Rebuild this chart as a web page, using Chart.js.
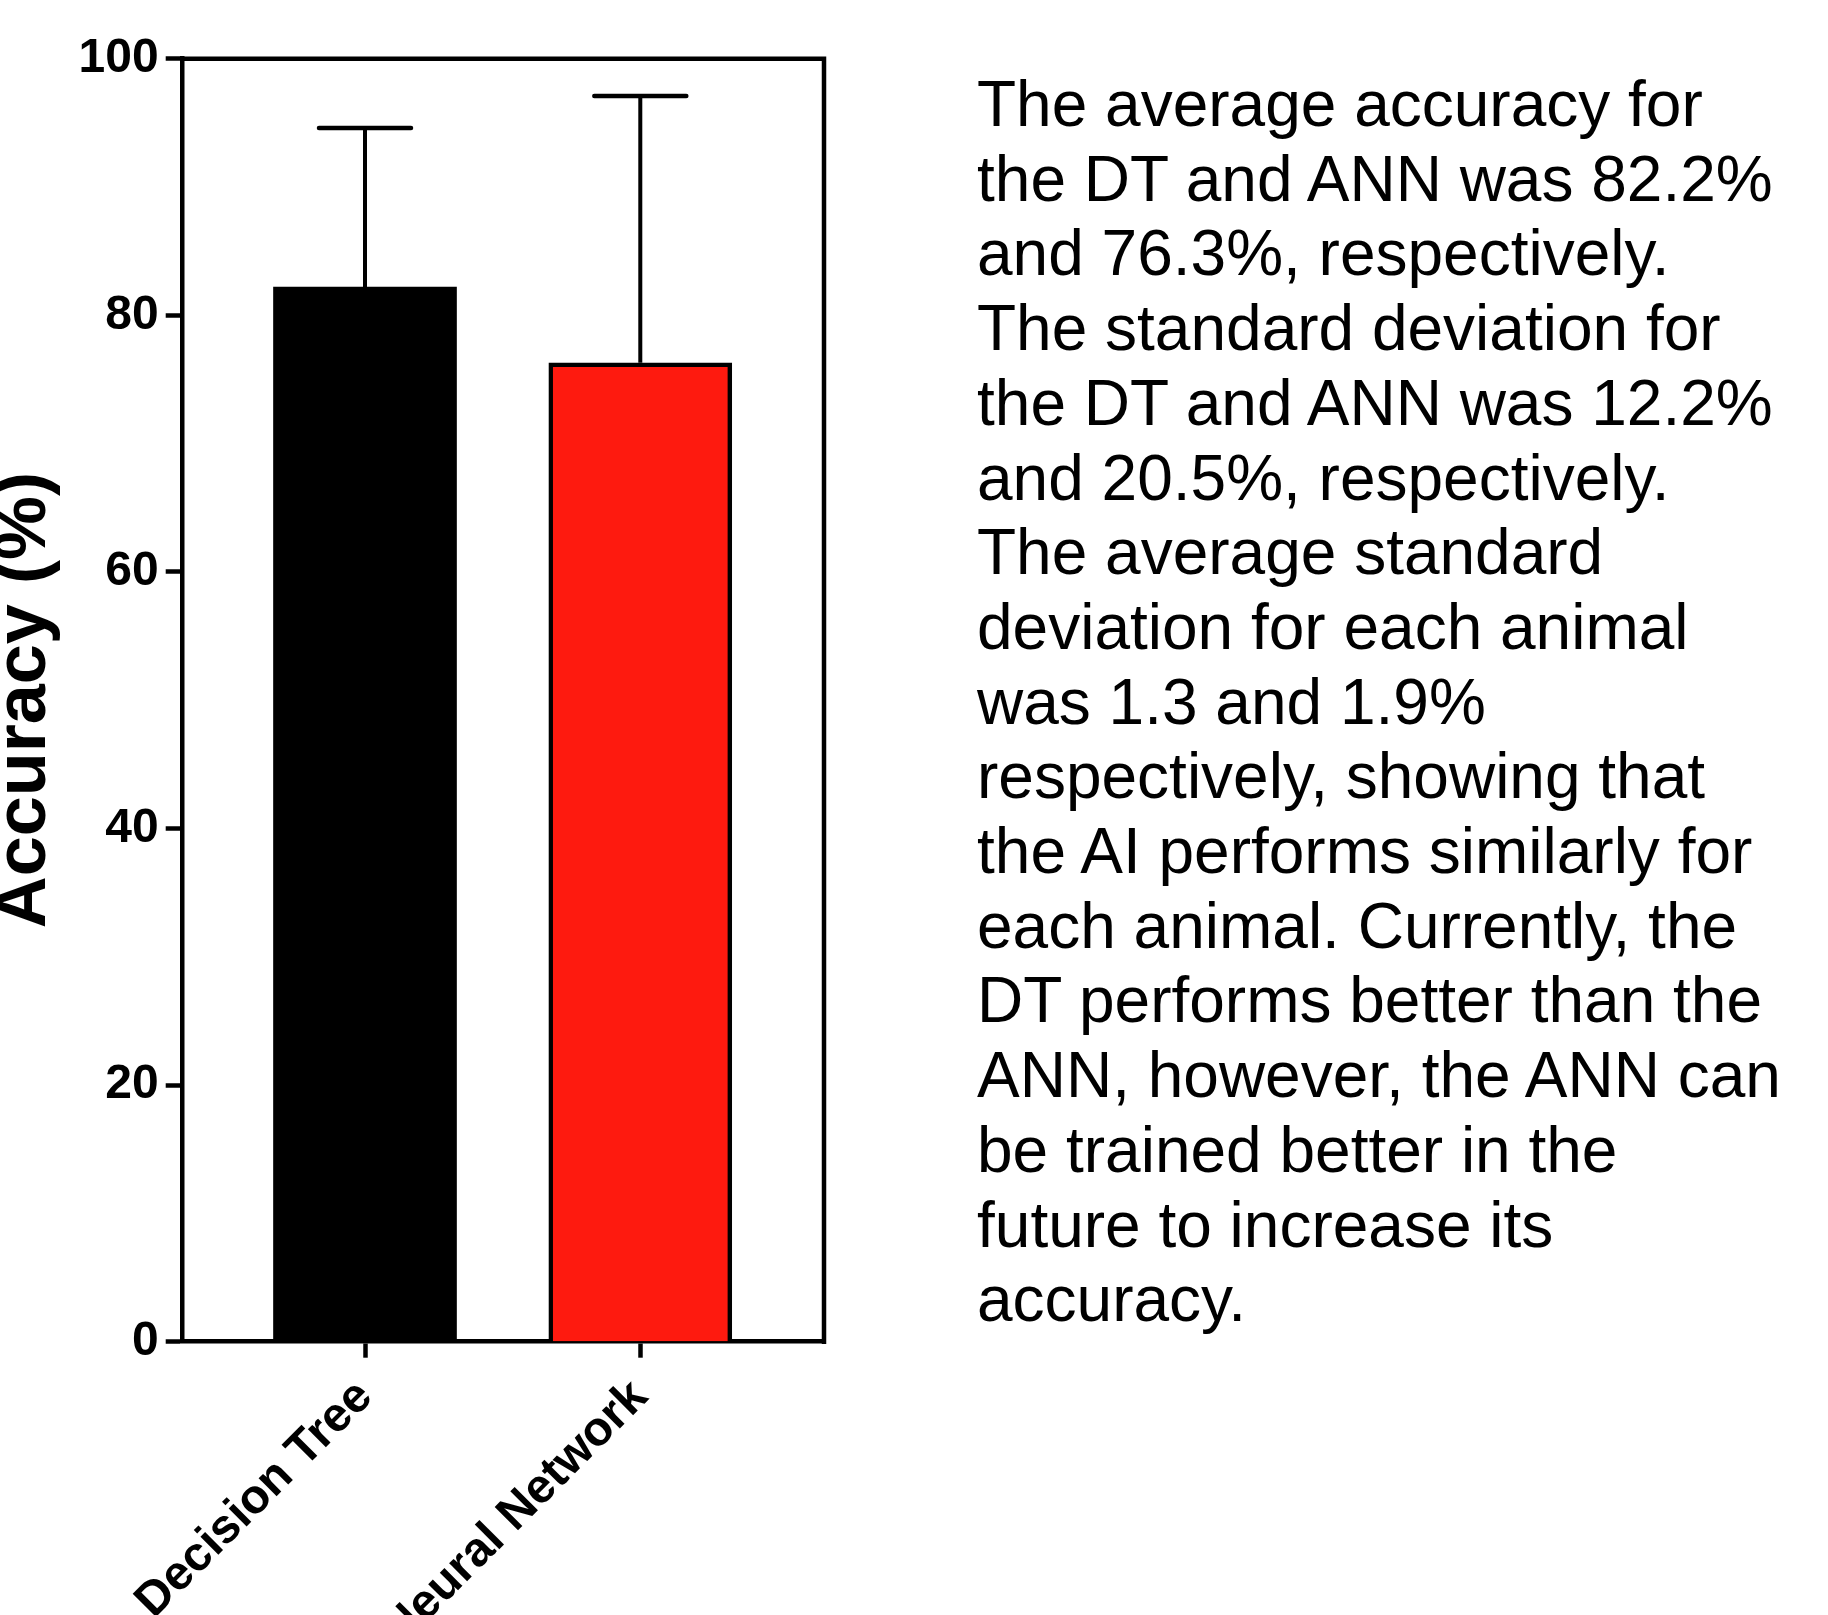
<!DOCTYPE html>
<html>
<head>
<meta charset="utf-8">
<script src="https://cdn.jsdelivr.net/npm/chart.js@4"></script>
<style>
  html, body { margin: 0; padding: 0; background: #fff; overflow: hidden; }
  body { width: 1828px; height: 1615px; position: relative; }
  #c { position: absolute; left: 0; top: 0; }
  #note {
    position: absolute; left: 977px; top: 67px;
    font-family: "Liberation Sans", Arial, sans-serif;
    font-size: 64px; line-height: 74.7px; color: #000; white-space: nowrap;
  }
</style>
</head>
<body>
<canvas id="c" width="900" height="1615"></canvas>
<div id="note">The average accuracy for<br>the DT and ANN was 82.2%<br>and 76.3%, respectively.<br>The standard deviation for<br>the DT and ANN was 12.2%<br>and 20.5%, respectively.<br>The average standard<br>deviation for each animal<br>was 1.3 and 1.9%<br>respectively, showing that<br>the AI performs similarly for<br>each animal. Currently, the<br>DT performs better than the<br>ANN, however, the ANN can<br>be trained better in the<br>future to increase its<br>accuracy.</div>
<script>
// ---- data ----
const categories = ['Decision Tree', 'Neural Network'];
const meanAccuracy = [82.2, 76.3];
const stdDev = [12.4, 20.8];
const yTickValues = [0, 20, 40, 60, 80, 100];
const yTitle = 'Accuracy (%)';

// ---- styles ----
const FONT = '"Liberation Sans", Arial, Helvetica, sans-serif';
const barFill = ['#000000', '#FE1A0F'];
const LW = 4.5;

Chart.defaults.font.family = FONT;
Chart.defaults.color = '#000';

const errorBars = {
  id: 'errorBars',
  afterDatasetsDraw(chart) {
    const ctx = chart.ctx;
    const meta = chart.getDatasetMeta(0);
    const ys = chart.scales.y;
    ctx.save();
    ctx.strokeStyle = '#000';
    meta.data.forEach((bar, i) => {
      const x = bar.x;
      const yb = ys.getPixelForValue(meanAccuracy[i]);
      const yt = ys.getPixelForValue(meanAccuracy[i] + stdDev[i]);
      ctx.lineCap = 'butt';
      ctx.lineWidth = 4;
      ctx.beginPath(); ctx.moveTo(x, yb); ctx.lineTo(x, yt); ctx.stroke();
      ctx.lineCap = 'round';
      ctx.lineWidth = LW;
      ctx.beginPath(); ctx.moveTo(x - 46, yt); ctx.lineTo(x + 46, yt); ctx.stroke();
    });
    ctx.restore();
  }
};

const frame = {
  id: 'frame',
  afterDraw(chart) {
    const a = chart.chartArea, ctx = chart.ctx;
    ctx.save();
    ctx.strokeStyle = '#000';
    ctx.lineWidth = LW;
    ctx.lineCap = 'square';
    ctx.beginPath();
    ctx.moveTo(a.left, a.top);
    ctx.lineTo(a.right, a.top);
    ctx.lineTo(a.right, a.bottom);
    ctx.stroke();
    ctx.restore();
  }
};

new Chart(document.getElementById('c'), {
  type: 'bar',
  data: {
    datasets: [{
      data: categories.map((c, i) => ({ x: i, y: meanAccuracy[i] })),
      backgroundColor: barFill,
      borderColor: '#000',
      borderWidth: [0, LW],
      barThickness: 183,
      borderSkipped: 'start'
    }]
  },
  options: {
    responsive: false,
    animation: false,
    devicePixelRatio: 1,
    layout: { padding: { left: 0, top: 58.7, right: 76, bottom: 0 } },
    plugins: { legend: { display: false }, tooltip: { enabled: false } },
    scales: {
      x: {
        type: 'linear',
        min: -0.6622,
        max: 1.6673,
        offset: false,
        afterBuildTicks: (s) => { s.ticks = categories.map((c, i) => ({ value: i })); },
        afterFit: (s) => { s.height = 273.3; s.paddingLeft = 0; s.paddingRight = 0; },
        ticks: {
          autoSkip: false,
          maxRotation: 45, minRotation: 45,
          padding: 18,
          font: { size: 48, weight: 'bold', lineHeight: 0.8 },
          color: '#000',
          callback: (v) => categories[v] ?? ''
        },
        grid: { offset: false, drawOnChartArea: false, drawTicks: true, tickLength: 16, tickWidth: LW, tickColor: '#000' },
        border: { display: true, color: '#000', width: LW }
      },
      y: {
        min: 0, max: 100,
        afterBuildTicks: (s) => { s.ticks = yTickValues.map(v => ({ value: v })); },
        afterFit: (s) => { s.width = 182.7; s.paddingTop = 0; s.paddingBottom = 0; },
        ticks: {
          padding: 7,
          font: { size: 48, weight: 'bold' },
          color: '#000'
        },
        grid: { drawOnChartArea: false, drawTicks: true, tickLength: 17, tickWidth: LW, tickColor: '#000' },
        border: { display: true, color: '#000', width: LW },
        title: {
          display: true,
          text: yTitle,
          font: { size: 72, weight: 'bold', lineHeight: 1 },
          padding: { top: -11, bottom: 0 },
          color: '#000'
        }
      }
    }
  },
  plugins: [errorBars, frame]
});
</script>
</body>
</html>
